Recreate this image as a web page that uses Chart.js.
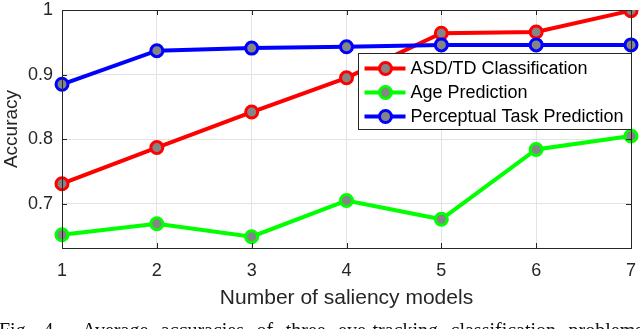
<!DOCTYPE html>
<html>
<head>
<meta charset="utf-8">
<script src="https://cdn.jsdelivr.net/npm/chart.js@4/dist/chart.umd.min.js"></script>
<style>
  html, body { margin: 0; padding: 0; background: #fff; overflow: hidden; }
  #wrap { position: relative; width: 640px; height: 329px; overflow: hidden; }
  #caption {
    position: absolute; left: -1px; top: 319px; width: 644px; white-space: nowrap;
    text-align: justify; text-align-last: justify;
    font-family: "Liberation Serif", "DejaVu Serif", serif; font-size: 20px; color: #111;
  }
</style>
</head>
<body>
<div id="wrap">
  <canvas id="chart" width="640" height="329"></canvas>
  <div id="caption">Fig. 4.&nbsp; Average accuracies of three eye-tracking classification problems</div>
</div>
<script>
const models = ['1', '2', '3', '4', '5', '6', '7'];
const asdTd = [0.731, 0.787, 0.842, 0.895, 0.964, 0.966, 0.999];
const agePred = [0.652, 0.669, 0.649, 0.705, 0.676, 0.784, 0.805];
const taskPred = [0.885, 0.937, 0.941, 0.943, 0.946, 0.946, 0.946];
const yTicks = [0.7, 0.8, 0.9, 1];

const FONT = '"Liberation Sans", Arial, sans-serif';

function series(label, values, color, order) {
    return {
        label: label,
        data: values,
        borderColor: color,
        backgroundColor: color,
        borderWidth: 4,
        pointRadius: 6,
        pointBorderWidth: 3,
        pointBorderColor: color,
        pointBackgroundColor: '#858585',
        tension: 0,
        order: order
    };
}

// matlab style box + inward ticks
const boxPlugin = {
    id: 'box',
    afterDraw(chart) {
        const ctx = chart.ctx;
        const a = chart.chartArea;
        const xs = chart.scales.x;
        const ys = chart.scales.y;
        ctx.save();
        ctx.strokeStyle = '#262626';
        ctx.lineWidth = 1;
        ctx.beginPath();
        models.forEach((m, i) => {
            const px = Math.round(xs.getPixelForValue(i)) + 0.5;
            ctx.moveTo(px, a.bottom); ctx.lineTo(px, a.bottom - 5);
            ctx.moveTo(px, a.top); ctx.lineTo(px, a.top + 5);
        });
        yTicks.forEach(v => {
            const py = Math.round(ys.getPixelForValue(v)) + 0.5;
            ctx.moveTo(a.left, py); ctx.lineTo(a.left + 5, py);
            ctx.moveTo(a.right, py); ctx.lineTo(a.right - 5, py);
        });
        ctx.stroke();
        ctx.strokeRect(Math.round(a.left) + 0.5, Math.round(a.top) + 0.5,
            Math.round(a.right - a.left), Math.round(a.bottom - a.top));
        ctx.restore();
    }
};

// legend drawn inside the axes
const legendPlugin = {
    id: 'insideLegend',
    afterDraw(chart) {
        const ctx = chart.ctx;
        const a = chart.chartArea;
        const right = Math.round(a.right) + 0.5;
        const left = right - 273;
        const top = Math.round(a.top) + 43.5;
        const h = 76;
        ctx.save();
        ctx.fillStyle = '#fff';
        ctx.fillRect(left, top, right - left, h);
        ctx.strokeStyle = '#262626';
        ctx.lineWidth = 1;
        ctx.strokeRect(left, top, right - left, h);
        chart.data.datasets.forEach((ds, i) => {
            const cy = top + 15 + i * 24;
            ctx.strokeStyle = ds.borderColor;
            ctx.lineWidth = 4;
            ctx.beginPath();
            ctx.moveTo(left + 6, cy);
            ctx.lineTo(left + 47, cy);
            ctx.stroke();
            ctx.beginPath();
            ctx.arc(left + 27, cy, 6, 0, Math.PI * 2);
            ctx.fillStyle = ds.pointBackgroundColor;
            ctx.fill();
            ctx.lineWidth = 3;
            ctx.stroke();
            ctx.fillStyle = '#000';
            ctx.font = '18px ' + FONT;
            ctx.textBaseline = 'middle';
            ctx.fillText(ds.label, left + 52, cy + 1);
        });
        ctx.restore();
    }
};

const config = {
    type: 'line',
    data: {
        labels: models,
        datasets: [
            series('ASD/TD Classification', asdTd, '#ff0000', 2),
            series('Age Prediction', agePred, '#00ff00', 1),
            series('Perceptual Task Prediction', taskPred, '#0000ff', 0)
        ]
    },
    options: {
        responsive: false,
        animation: false,
        layout: { padding: { top: 10, right: 8, left: 0, bottom: 0 } },
        plugins: {
            legend: { display: false },
            tooltip: { enabled: false }
        },
        scales: {
            x: {
                type: 'category',
                offset: false,
                grid: { color: '#e3e3e3', drawTicks: false },
                border: { display: false },
                ticks: { color: '#262626', padding: 12, font: { family: FONT, size: 18 } },
                title: {
                    display: true,
                    text: 'Number of saliency models',
                    color: '#262626',
                    font: { family: FONT, size: 21 },
                    padding: { top: 4, bottom: 18 }
                },
                afterFit(scale) {
                    scale.height = 81;
                    scale.paddingLeft = 0;
                    scale.paddingRight = 0;
                }
            },
            y: {
                min: 0.6315,
                max: 1,
                grid: { color: '#e3e3e3', drawTicks: false },
                border: { display: false },
                afterBuildTicks(scale) { scale.ticks = yTicks.map(v => ({ value: v })); },
                ticks: {
                    color: '#262626',
                    padding: 9,
                    font: { family: FONT, size: 18 },
                    callback: v => v === 1 ? '1' : v.toFixed(1)
                },
                title: {
                    display: true,
                    text: 'Accuracy',
                    color: '#262626',
                    font: { family: FONT, size: 19 },
                    padding: { top: 0, bottom: 4 }
                },
                afterFit(scale) {
                    scale.width = 62;
                    scale.paddingTop = 0;
                    scale.paddingBottom = 0;
                }
            }
        }
    },
    plugins: [boxPlugin, legendPlugin]
};

new Chart(document.getElementById('chart').getContext('2d'), config);
</script>
</body>
</html>
